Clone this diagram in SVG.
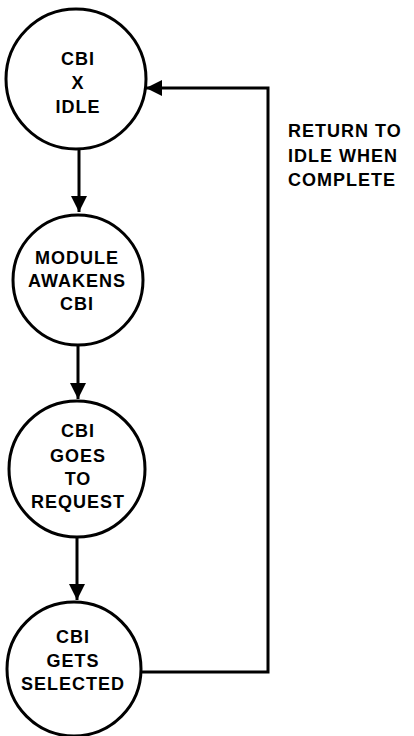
<svg xmlns="http://www.w3.org/2000/svg" width="414" height="736" viewBox="0 0 414 736">
<style>
.node circle{fill:#fff;stroke:#000;stroke-width:3}
.node text,.lbl{font-family:"Liberation Sans",Arial,sans-serif;font-weight:bold;font-size:18px;letter-spacing:1px;fill:#000}
.node text{text-anchor:middle}
.edge{fill:none;stroke:#000;stroke-width:3}
</style>
<defs>
<marker id="ah" markerUnits="userSpaceOnUse" markerWidth="18" markerHeight="18" refX="16" refY="8" orient="auto">
<path d="M0,0 L16,8 L0,16 Z" fill="#000"/>
</marker>
</defs>
<rect width="414" height="736" fill="#fff"/>
<g id="connectors">
<path class="edge" d="M79,149 V212" marker-end="url(#ah)"/>
<path class="edge" d="M78,345 V399" marker-end="url(#ah)"/>
<path class="edge" d="M77,538 V600" marker-end="url(#ah)"/>
<path class="edge" d="M141,672 H268 V88 H146" marker-end="url(#ah)"/>
</g>
<g id="n1" class="node">
<circle cx="76" cy="79" r="70"/>
<text x="78" y="65">CBI</text>
<text x="78" y="89">X</text>
<text x="78" y="113">IDLE</text>
</g>
<g id="n2" class="node">
<circle cx="78" cy="280" r="65"/>
<text x="77" y="264">MODULE</text>
<text x="77" y="287">AWAKENS</text>
<text x="77" y="310">CBI</text>
</g>
<g id="n3" class="node">
<circle cx="77" cy="469" r="68"/>
<text x="78" y="437">CBI</text>
<text x="78" y="462">GOES</text>
<text x="78" y="485">TO</text>
<text x="78" y="508">REQUEST</text>
</g>
<g id="n4" class="node">
<circle cx="74" cy="669" r="67"/>
<text x="73" y="643">CBI</text>
<text x="73" y="667">GETS</text>
<text x="73" y="690">SELECTED</text>
</g>
<g id="label">
<text class="lbl" x="288" y="137">RETURN TO</text>
<text class="lbl" x="288" y="162">IDLE WHEN</text>
<text class="lbl" x="288" y="186">COMPLETE</text>
</g>
</svg>
